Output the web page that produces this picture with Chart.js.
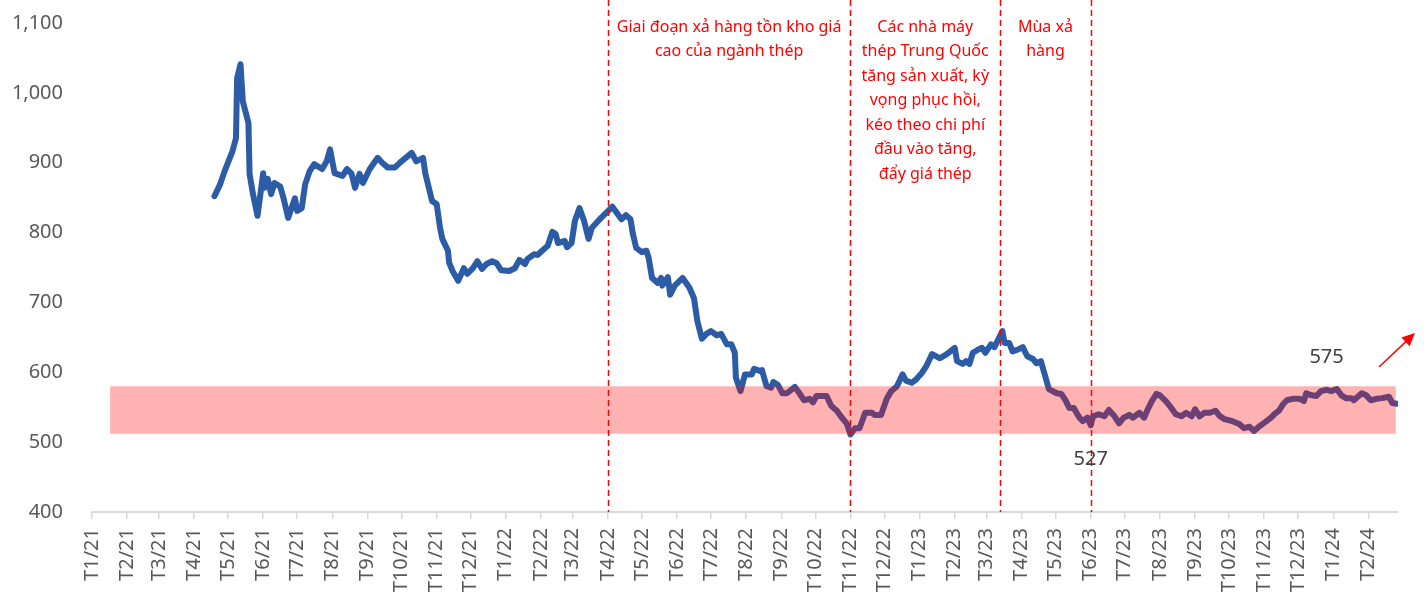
<!DOCTYPE html>
<html lang="vi">
<head>
  <meta charset="UTF-8">
  <title>Giá thép</title>
  <script src="https://cdn.jsdelivr.net/npm/chart.js@4.4.1/dist/chart.umd.min.js"></script>
  <style>
    html, body { margin: 0; padding: 0; background: #fff; overflow: hidden; }
    #chart { display: block; }
  </style>
</head>
<body>
  <canvas id="chart" width="1424" height="597"></canvas>

  <script>
    // x = days since 01/01/2021
    const monthLabels = ["T1/21", "T2/21", "T3/21", "T4/21", "T5/21", "T6/21", "T7/21", "T8/21", "T9/21", "T10/21", "T11/21", "T12/21",
      "T1/22", "T2/22", "T3/22", "T4/22", "T5/22", "T6/22", "T7/22", "T8/22", "T9/22", "T10/22", "T11/22", "T12/22",
      "T1/23", "T2/23", "T3/23", "T4/23", "T5/23", "T6/23", "T7/23", "T8/23", "T9/23", "T10/23", "T11/23", "T12/23",
      "T1/24", "T2/24"];
    const monthStarts = [0, 31, 59, 90, 120, 151, 181, 212, 243, 273, 304, 334,
      365, 396, 424, 455, 485, 516, 546, 577, 608, 638, 669, 699,
      730, 761, 789, 820, 850, 881, 911, 942, 973, 1003, 1034, 1064,
      1095, 1126];

    const days = [108, 113, 117, 124, 127, 128, 131, 133, 138, 139, 142, 146, 151, 152, 155, 158, 161, 166, 169, 173,
      179, 181, 185, 188, 192, 196, 203, 207, 210, 214, 221, 225, 229, 232, 236, 239, 245, 252, 256, 261,
      267, 273, 282, 286, 292, 294, 300, 304, 307, 309, 314, 315, 318, 323, 328, 331, 336, 340, 344, 348,
      353, 357, 361, 368, 373, 377, 382, 384, 390, 393, 397, 402, 406, 409, 411, 417, 419, 423, 426, 430,
      434, 438, 441, 445, 449, 454, 459, 463, 467, 471, 475, 477, 480, 485, 489, 491, 494, 499, 502, 503,
      508, 510, 514, 521, 527, 531, 534, 538, 542, 546, 551, 555, 560, 564, 567, 568, 572, 576, 582, 584,
      589, 591, 595, 599, 601, 605, 609, 613, 620, 624, 628, 633, 636, 639, 648, 652, 657, 661, 666, 669,
      673, 677, 682, 688, 690, 696, 701, 705, 710, 715, 718, 723, 727, 732, 736, 741, 748, 754, 761, 763,
      768, 771, 774, 777, 781, 785, 788, 793, 796, 800, 803, 805, 809, 812, 816, 821, 825, 830, 833, 837,
      840, 844, 851, 855, 859, 862, 866, 871, 874, 878, 881, 883, 888, 893, 897, 902, 906, 910, 915, 918,
      924, 928, 931, 935, 939, 942, 947, 952, 956, 961, 965, 970, 973, 977, 981, 986, 991, 995, 999, 1006,
      1012, 1016, 1021, 1025, 1030, 1036, 1040, 1043, 1047, 1051, 1054, 1059, 1065, 1069, 1071, 1076, 1080, 1084, 1089, 1093,
      1098, 1102, 1106, 1111, 1113, 1120, 1124, 1128, 1133, 1138, 1144, 1147, 1151];
    const prices = [852, 869, 888, 917, 935, 1021, 1041, 988, 957, 884, 855, 824, 885, 864, 877, 855, 871, 866, 849, 821,
      849, 831, 835, 869, 888, 898, 891, 902, 919, 885, 881, 891, 884, 864, 884, 871, 891, 907, 900, 893,
      893, 902, 914, 902, 907, 885, 845, 841, 807, 791, 774, 757, 745, 731, 749, 741, 749, 759, 748, 755,
      759, 756, 746, 745, 749, 761, 755, 762, 769, 768, 774, 781, 801, 798, 785, 788, 779, 785, 817, 835,
      817, 791, 807, 814, 821, 829, 837, 828, 819, 825, 819, 799, 778, 772, 774, 764, 735, 728, 735, 724,
      736, 711, 724, 735, 721, 706, 673, 648, 655, 659, 653, 655, 640, 640, 628, 592, 573, 597, 597, 605,
      602, 603, 580, 578, 586, 582, 570, 570, 579, 570, 560, 562, 557, 566, 566, 552, 545, 536, 526, 511,
      520, 520, 542, 542, 539, 539, 562, 573, 580, 597, 588, 585, 590, 599, 609, 626, 620, 626, 635, 616,
      612, 616, 612, 628, 632, 635, 628, 640, 636, 649, 659, 642, 642, 630, 632, 636, 623, 619, 613, 616,
      599, 576, 570, 569, 559, 549, 549, 535, 530, 535, 524, 537, 540, 537, 546, 537, 527, 535, 539, 535,
      542, 535, 546, 559, 569, 567, 559, 549, 540, 537, 542, 537, 547, 537, 542, 542, 545, 537, 533, 530,
      526, 520, 522, 516, 523, 530, 535, 540, 545, 555, 560, 562, 562, 559, 570, 567, 566, 573, 575, 573,
      576, 567, 563, 563, 560, 570, 567, 560, 562, 563, 565, 556, 555];

    // annotations
    const bandRange = [512, 580];
    const bandDays = [16, 1150];
    const dividerDays = [455, 669, 801, 881];
    const notes = [
      ["Giai đoạn xả hàng tồn kho giá", "cao của ngành thép"],
      ["Các nhà máy", "thép Trung Quốc", "tăng sản xuất, kỳ", "vọng phục hồi,", "kéo theo chi phí", "đầu vào tăng,", "đẩy giá thép"],
      ["Mùa xả", "hàng"]
    ];
    const callouts = [
      { text: "527", day: 881, value: 476 },
      { text: "575", day: 1089, value: 622 }
    ];

    const FONT = "'Noto Sans', sans-serif";

    const overlay = {
      id: "overlay",
      afterDatasetsDraw(chart) {
        const { ctx, scales: { x, y } } = chart;
        const bottom = y.getPixelForValue(400);
        ctx.save();

        // pink band over the line
        ctx.fillStyle = "rgba(255, 0, 0, 0.3)";
        const bx0 = x.getPixelForValue(bandDays[0]);
        const bx1 = x.getPixelForValue(bandDays[1]);
        const by0 = y.getPixelForValue(bandRange[1]);
        const by1 = y.getPixelForValue(bandRange[0]);
        ctx.fillRect(bx0, by0, bx1 - bx0, by1 - by0);

        // dashed dividers
        ctx.strokeStyle = "#FF0000";
        ctx.lineWidth = 1.5;
        ctx.setLineDash([6, 4]);
        const divX = dividerDays.map(d => x.getPixelForValue(d));
        divX.forEach(px => {
          ctx.beginPath();
          ctx.moveTo(Math.round(px) + 0.5, 0);
          ctx.lineTo(Math.round(px) + 0.5, bottom);
          ctx.stroke();
        });
        ctx.setLineDash([]);

        // notes between dividers
        ctx.fillStyle = "#FF0000";
        ctx.font = "16px " + FONT;
        ctx.textAlign = "center";
        ctx.textBaseline = "middle";
        notes.forEach((lines, i) => {
          const cx = (divX[i] + divX[i + 1]) / 2;
          lines.forEach((t, j) => ctx.fillText(t, cx, 27 + j * 24.5));
        });

        // value callouts
        ctx.fillStyle = "#404040";
        ctx.font = "20px " + FONT;
        callouts.forEach(c => {
          ctx.fillText(c.text, x.getPixelForValue(c.day), y.getPixelForValue(c.value));
        });

        // red arrow
        const ax0 = 1379, ay0 = 367, ax1 = 1415, ay1 = 333;
        const ang = Math.atan2(ay1 - ay0, ax1 - ax0);
        ctx.strokeStyle = "#FF0000";
        ctx.fillStyle = "#FF0000";
        ctx.lineWidth = 1.5;
        ctx.beginPath();
        ctx.moveTo(ax0, ay0);
        ctx.lineTo(ax1 - 10 * Math.cos(ang), ay1 - 10 * Math.sin(ang));
        ctx.stroke();
        ctx.beginPath();
        ctx.moveTo(ax1, ay1);
        ctx.lineTo(ax1 - 13 * Math.cos(ang) + 6 * Math.sin(ang), ay1 - 13 * Math.sin(ang) - 6 * Math.cos(ang));
        ctx.lineTo(ax1 - 13 * Math.cos(ang) - 6 * Math.sin(ang), ay1 - 13 * Math.sin(ang) + 6 * Math.cos(ang));
        ctx.closePath();
        ctx.fill();

        ctx.restore();
      }
    };

    new Chart(document.getElementById("chart"), {
      type: "line",
      data: {
        datasets: [{
          data: days.map((d, i) => ({ x: d, y: prices[i] })),
          borderColor: "#2C5CA6",
          borderWidth: 6,
          borderCapStyle: "round",
          borderJoinStyle: "round",
          pointRadius: 0,
          tension: 0
        }]
      },
      options: {
        responsive: false,
        animation: false,
        devicePixelRatio: 1,
        layout: { autoPadding: false, padding: { top: 23, right: 26, left: 0, bottom: 0 } },
        plugins: { legend: { display: false }, tooltip: { enabled: false } },
        scales: {
          x: {
            type: "linear",
            min: 0,
            max: 1152,
            afterBuildTicks: axis => { axis.ticks = monthStarts.map(v => ({ value: v })); },
            afterFit: axis => { axis.height = 85; axis.paddingLeft = 0; axis.paddingRight = 0; },
            grid: { drawOnChartArea: false, drawTicks: true, tickLength: 7, color: "#D9D9D9", lineWidth: 1.5 },
            border: { color: "#D9D9D9", width: 2 },
            ticks: {
              autoSkip: false,
              maxRotation: 90,
              minRotation: 90,
              padding: 9,
              color: "#595959",
              font: { family: FONT, size: 20 },
              callback: (v, i) => monthLabels[i]
            }
          },
          y: {
            min: 400,
            max: 1100,
            afterFit: axis => { axis.width = 92; axis.paddingTop = 0; axis.paddingBottom = 0; },
            grid: { display: false, drawTicks: false },
            border: { display: false },
            ticks: {
              stepSize: 100,
              padding: 29,
              color: "#595959",
              font: { family: FONT, size: 20 }
            }
          }
        }
      },
      plugins: [overlay]
    });
  </script>
</body>
</html>
